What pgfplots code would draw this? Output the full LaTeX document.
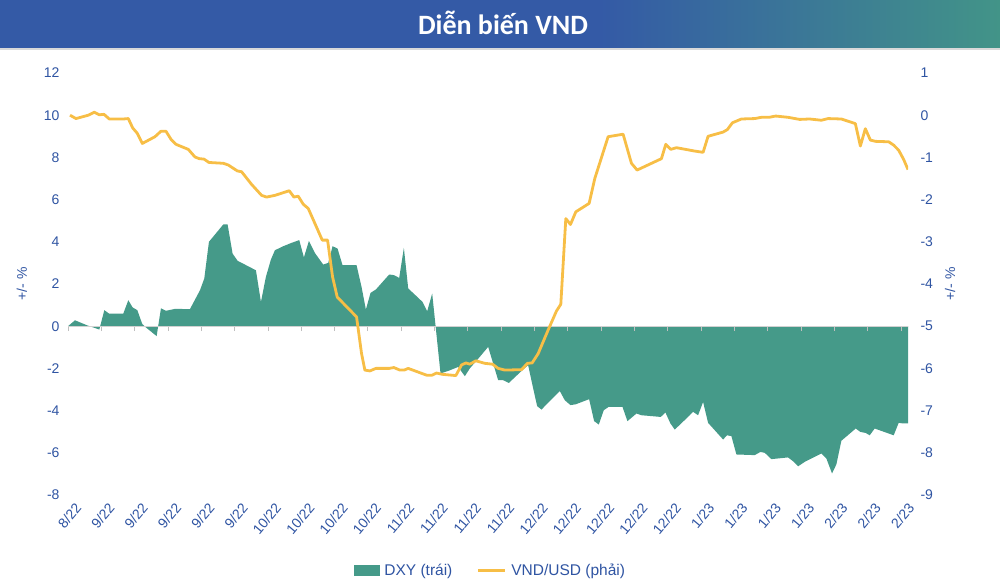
\documentclass[border=0pt]{standalone}
\usepackage{fontspec}
\setmainfont{Liberation Sans}
\newfontfamily\titlefont{Carlito}
\usepackage{pgfplots}
\usepackage{pgfplotstable}
\pgfplotsset{compat=1.18}

\definecolor{dxy}{RGB}{69,154,137}
\definecolor{vnd}{RGB}{247,190,70}
\definecolor{lab}{RGB}{47,84,162}
\definecolor{barL}{RGB}{52,90,166}
\definecolor{barR}{RGB}{66,148,136}

% x = trading days since start (5 per tick)
\pgfplotstableread{
x y
0 0
1.05 0.28
2.8 0.05
4.7 -0.16
5.45 0.76
6.15 0.60
8.3 0.60
9.05 1.23
9.7 0.89
10.4 0.76
11.15 0.10
11.7 -0.06
13.3 -0.47
13.95 0.85
14.7 0.73
16.05 0.82
18.3 0.81
19.8 1.70
20.45 2.26
21.15 4.00
23.3 4.82
23.95 4.82
24.7 3.44
25.45 3.10
28.2 2.65
28.95 1.15
29.7 2.34
30.45 3.16
31.05 3.60
32.3 3.79
33.55 3.95
34.7 4.08
35.4 3.26
36.15 4.04
37.05 3.47
38.3 2.92
39.05 3.00
39.7 3.79
40.45 3.68
41.2 2.89
43.3 2.89
44.05 1.86
44.7 0.79
45.4 1.58
46.2 1.74
48.2 2.45
48.9 2.42
49.7 2.29
50.4 3.71
51.05 1.79
52.3 1.42
53.2 1.15
53.9 0.71
54.65 1.55
55.9 -2.24
57.3 -2.09
58.55 -1.93
59.55 -2.37
60.3 -2.00
61.8 -1.45
63.05 -0.98
64.55 -2.56
65.3 -2.56
66.15 -2.69
68.3 -2.05
69.05 -1.85
69.7 -2.80
70.4 -3.79
71.05 -3.95
73.8 -3.07
74.55 -3.51
75.4 -3.74
76.2 -3.70
78.2 -3.46
78.95 -4.50
79.65 -4.66
80.4 -3.98
81.15 -3.82
83.2 -3.82
83.95 -4.50
85.3 -4.14
86.05 -4.22
88.95 -4.30
89.65 -4.09
90.4 -4.61
91.05 -4.90
93.3 -4.22
93.8 -4.06
94.55 -4.22
95.3 -3.59
96.05 -4.58
98.3 -5.37
98.9 -5.17
99.55 -5.21
100.3 -6.08
103.05 -6.11
103.9 -5.96
104.55 -6.00
105.55 -6.30
108.05 -6.22
108.8 -6.40
109.55 -6.64
110.55 -6.43
113.05 -6.03
113.8 -6.27
114.65 -6.98
115.3 -6.55
116.05 -5.43
118.2 -4.85
118.9 -5.01
119.7 -5.06
120.3 -5.17
121.05 -4.85
123.9 -5.17
124.65 -4.58
125.3 -4.61
126.05 -4.61
}\dxytab

\pgfplotstableread{
x y
0.3 0.00
1.2 -0.08
3.05 0.00
3.95 0.07
4.7 0.01
5.4 0.02
6.2 -0.09
8.3 -0.09
9.05 -0.08
9.7 -0.30
10.4 -0.43
11.15 -0.67
13.05 -0.51
13.95 -0.38
14.7 -0.38
15.45 -0.57
16.2 -0.69
18.05 -0.81
19.05 -0.99
19.7 -1.03
20.4 -1.04
21.15 -1.12
23.3 -1.14
24.05 -1.18
25.4 -1.32
26.05 -1.34
27.55 -1.64
29.05 -1.90
29.8 -1.94
31.05 -1.90
33.2 -1.79
33.9 -1.94
34.55 -1.92
35.3 -2.11
36.05 -2.21
36.95 -2.53
38.15 -2.96
38.95 -2.96
39.7 -3.83
40.4 -4.31
43.3 -4.78
44.05 -5.65
44.55 -6.04
45.3 -6.06
46.2 -6.00
48.2 -6.00
48.9 -5.98
49.8 -6.04
50.45 -6.04
51.05 -6.00
53.8 -6.16
54.65 -6.16
55.3 -6.11
56.15 -6.14
58.2 -6.17
59.05 -5.92
59.7 -5.87
60.3 -5.90
61.2 -5.82
62.55 -5.88
63.7 -5.90
64.55 -6.00
65.55 -6.04
68.05 -6.03
68.95 -5.88
69.65 -5.87
70.55 -5.65
72.05 -5.09
73.3 -4.64
73.95 -4.48
74.7 -2.45
75.4 -2.59
76.2 -2.29
78.2 -2.09
79.05 -1.50
81.05 -0.51
83.3 -0.45
84.55 -1.14
85.4 -1.30
89.05 -1.03
89.7 -0.69
90.45 -0.81
91.3 -0.77
94.05 -0.85
95.3 -0.88
96.05 -0.50
98.3 -0.40
98.95 -0.34
99.7 -0.18
101.05 -0.09
103.05 -0.08
104.05 -0.05
105.2 -0.05
106.2 -0.02
108.05 -0.05
109.8 -0.10
111.3 -0.09
113.05 -0.12
114.05 -0.08
116.05 -0.09
118.15 -0.20
118.9 -0.73
119.65 -0.32
120.4 -0.59
121.2 -0.62
123.15 -0.63
123.9 -0.71
124.65 -0.83
125.4 -1.05
126.05 -1.29
}\vndtab

\pgfplotsset{
  base/.style={
    at={(68pt,85pt)}, anchor=south west,
    width=840pt, height=422pt, scale only axis,
    xmin=0, xmax=126.05,
    /pgf/number format/assume math mode=true,
    tick label style={font=\fontsize{14}{14}\selectfont, text=lab},
    label style={font=\fontsize{14}{14}\selectfont, text=lab},
    axis line style={draw=none},
    major tick length=0pt,
  }
}

\begin{document}
\begin{tikzpicture}
\path[use as bounding box] (0,0) rectangle (1000pt,580pt);

% title bar
\fill[barL] (0,532pt) rectangle (600pt,580pt);
\shade[left color=barL, right color=barR] (599pt,532pt) rectangle (1000pt,580pt);
\fill[black!15] (0,530pt) rectangle (1000pt,532pt);
\node[white, font=\titlefont\bfseries\fontsize{28}{28}\selectfont] at (503pt,557pt) {Diễn biến VND};

% DXY area, left axis
\begin{axis}[base,
  ymin=-8, ymax=12, ytick={-8,-6,...,12},
  y tick label style={xshift=-5pt},
  xtick={0,5,...,125},
  xticklabels={8/22,9/22,9/22,9/22,9/22,9/22,10/22,10/22,10/22,10/22,11/22,11/22,11/22,11/22,12/22,12/22,12/22,12/22,12/22,1/23,1/23,1/23,1/23,2/23,2/23,2/23},
  x tick label style={rotate=50, anchor=north east, inner sep=1pt, yshift=-8pt, xshift=0pt},
  ylabel={+/- \%},
  ylabel style={at={(axis description cs:-0.055,0.5)}, anchor=center},
]
\addplot[fill=dxy, draw=none] table[x=x, y=y] {\dxytab} \closedcycle;
\end{axis}

% zero line with ticks
\begin{axis}[base,
  ymin=-8, ymax=12,
  axis x line=middle, axis y line=none,
  x axis line style={draw=black!18, line width=1pt, -},
  xtick={0,5,...,125}, xticklabels={},
  major tick length=5pt, tick align=outside,
  xtick style={draw=black!25, line width=0.8pt},
]
\end{axis}

% VND/USD line, right axis
\begin{axis}[base,
  ymin=-9, ymax=1, ytick={-9,-8,...,1},
  axis x line=none,
  yticklabel pos=right,
  y tick label style={xshift=9pt},
  ylabel={+/- \%},
  ylabel style={at={(axis description cs:1.05,0.5)}, anchor=center},
  legend style={at={(axis description cs:0.503,-0.178)}, anchor=center,
    draw=none, fill=none, font=\fontsize{15.5}{15.5}\selectfont, text=lab,
    legend columns=2,
    /tikz/every odd column/.append style={column sep=3pt},
    /tikz/every even column/.append style={column sep=22pt}},
]
\addlegendimage{legend image code/.code={\fill[dxy] (0pt,-5pt) rectangle (25pt,5pt);}}
\addlegendentry{DXY (trái)}
\addlegendimage{legend image code/.code={\draw[vnd, line width=3pt] (0pt,0pt) -- (27pt,0pt);}}
\addlegendentry{VND/USD (phải)}
\addplot[vnd, line width=2.8pt, line join=round, forget plot] table[x=x, y=y] {\vndtab};
\end{axis}
\end{tikzpicture}
\end{document}
